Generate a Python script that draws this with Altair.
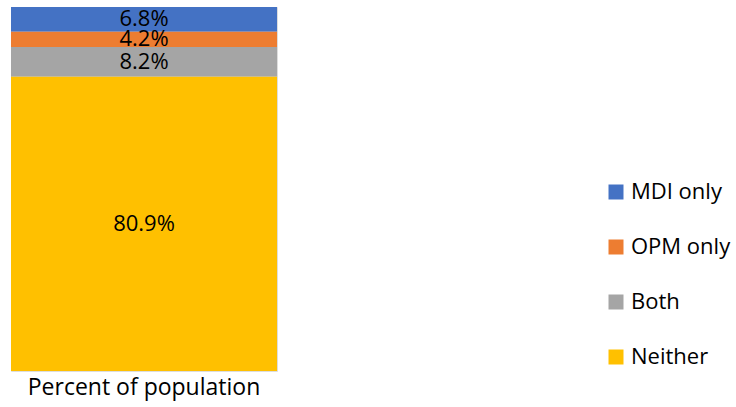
import altair as alt
import pandas as pd

categories = ["MDI only", "OPM only", "Both", "Neither"]
values = [6.8, 4.2, 8.2, 80.9]
stack_order = [3, 2, 1, 0]
colors = ["#4472C4", "#ED7D31", "#A5A5A5", "#FFC000"]
group = "Percent of population"

df = pd.DataFrame({
    "group": [group] * len(categories),
    "cat": categories,
    "value": values,
    "ord": stack_order,
})
df["label"] = [f"{v:.1f}%" for v in values]

FONT = "Open Sans"

base = alt.Chart(df).transform_stack(
    stack="value", as_=["y0", "y1"], groupby=["group"], sort=[alt.SortField("ord")]
).transform_calculate(mid="(datum.y0 + datum.y1) / 2")

xenc = alt.X("group:N", title=None,
             scale=alt.Scale(paddingInner=0, paddingOuter=0),
             axis=alt.Axis(domain=False, ticks=False, labelFontSize=23, labelFont=FONT,
                           labelColor="#000000", labelPadding=5, labelAngle=0, labelLimit=0))
yscale = alt.Scale(domain=[0, sum(values)], nice=False, zero=True)

bars = base.mark_bar(size=266).encode(
    x=xenc,
    y=alt.Y("y0:Q", scale=yscale, axis=None),
    y2="y1:Q",
    color=alt.Color("cat:N", scale=alt.Scale(domain=categories, range=colors),
                    legend=alt.Legend(title=None, orient="none", legendX=594, legendY=174,
                                      symbolType="square", symbolSize=225, symbolStrokeWidth=0,
                                      labelFontSize=22, labelFont=FONT, labelColor="#000000",
                                      rowPadding=33, labelOffset=4, padding=0, labelLimit=0)),
)

labels = base.mark_text(fontSize=22, font=FONT, color="#000000", baseline="middle").encode(
    x=alt.X("group:N"),
    y=alt.Y("mid:Q", scale=yscale),
    text="label:N",
)

chart = alt.layer(bars, labels).properties(
    width=266, height=364,
    autosize=alt.AutoSizeParams(type="none"),
    padding={"left": 11, "top": 7, "right": 459, "bottom": 36},
).configure_view(stroke=None).configure(background="white")

chart.save("out.html", embed_options={"renderer": "svg", "actions": False})
